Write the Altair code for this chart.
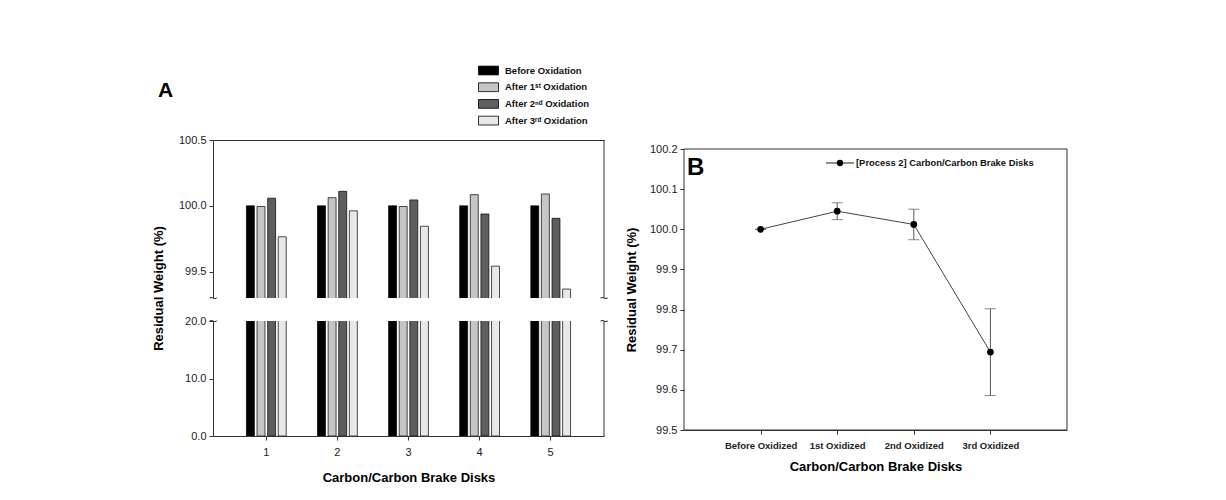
import altair as alt
import pandas as pd

# ---------------- data ----------------
disks = [1, 2, 3, 4, 5]
series = ["Before Oxidation", "After 1ˢᵗ Oxidation", "After 2ⁿᵈ Oxidation", "After 3ʳᵈ Oxidation"]
before = [100.0, 100.0, 100.0, 100.0, 100.0]
after1 = [99.995, 100.062, 99.995, 100.085, 100.090]
after2 = [100.058, 100.110, 100.045, 99.938, 99.905]
after3 = [99.765, 99.962, 99.845, 99.542, 99.368]
bar_colors = ["#000000", "#c6c6c6", "#5e5e5e", "#e8e8e8"]

stages = ["Before Oxidized", "1st Oxidized", "2nd Oxidized", "3rd Oxidized"]
means = [100.0, 100.045, 100.012, 99.694]
errs = [0.0, 0.021, 0.038, 0.108]
legend_b = ["[Process 2] Carbon/Carbon Brake Disks"]

rows = []
for s, vals in zip(series, [before, after1, after2, after3]):
    for d, v in zip(disks, vals):
        rows.append({"disk": d, "series": s, "value": v})
dfA = pd.DataFrame(rows)

dfB = pd.DataFrame({
    "stage": stages,
    "mean": means,
    "lo": [m - e for m, e in zip(means, errs)],
    "hi": [m + e for m, e in zip(means, errs)],
})
one = pd.DataFrame({"k": [0]})

WA, HT, HB = 391, 158, 115
WB, HBB = 383, 281
OFF_B = 9                      # panel B frame starts a little lower than panel A
B_TOP = 100.2 + OFF_B * 0.7 / HBB

xscale = alt.Scale(paddingInner=0.44, paddingOuter=0.47)
xoff = alt.XOffset("series:N", sort=series, scale=alt.Scale(paddingInner=0.25))
color = alt.Color(
    "series:N", sort=series,
    scale=alt.Scale(domain=series, range=bar_colors),
    legend=alt.Legend(
        title=None, orient="none", legendX=267, legendY=-78,
        symbolType="M-1.25,-0.55L1.25,-0.55L1.25,0.55L-1.25,0.55Z",
        symbolSize=256, symbolStrokeColor="black", symbolStrokeWidth=0.8,
        symbolOpacity=1, labelFont="Liberation Sans", labelFontWeight="bold",
        labelFontSize=9.5, labelColor="#111", rowPadding=1.7, labelOffset=8,
    ),
)

# ---------- Panel A, upper part ----------
top_bars = alt.Chart(dfA).mark_bar(clip=True, stroke="black", strokeWidth=0.7, opacity=1).encode(
    x=alt.X("disk:O", scale=xscale,
            axis=alt.Axis(orient="top", labels=False, ticks=False, title=None, domain=True)),
    xOffset=xoff,
    y=alt.Y("value:Q", scale=alt.Scale(domain=[99.3, 100.5], nice=False, zero=False),
            axis=alt.Axis(values=[99.5, 100.0, 100.5], format=".1f",
                          title="Residual Weight (%)", titleX=-48, titleY=148,
                          titleAngle=-90)),
    color=color,
)
frame_top = alt.Chart(one).mark_rule(color="#333", strokeWidth=1).encode(
    x=alt.value(WA), y=alt.value(0), y2=alt.value(HT))
spacer_top = alt.Chart(one).mark_rule(strokeOpacity=0).encode(
    x=alt.value(0), y=alt.value(-100), y2=alt.value(-99))
brk_top = alt.Chart(pd.DataFrame({"px": [0, WA]})).mark_text(
    text="~", fontSize=15, color="#333", baseline="middle", align="center").encode(
    x=alt.X("px:Q", scale=None), y=alt.value(HT))
labelA = alt.Chart(pd.DataFrame({"t": ["A"]})).mark_text(
    align="left", baseline="alphabetic", font="Liberation Sans", fontWeight="bold",
    fontSize=21, color="black").encode(x=alt.value(-55), y=alt.value(-43), text="t:N")
top = alt.layer(top_bars, frame_top, spacer_top, brk_top, labelA).properties(width=WA, height=HT)

# ---------- Panel A, lower part ----------
bot_bars = alt.Chart(dfA).mark_bar(clip=True, stroke="black", strokeWidth=0.7, opacity=1).encode(
    x=alt.X("disk:O", scale=xscale,
            axis=alt.Axis(title="Carbon/Carbon Brake Disks", labelAngle=0,
                          labelPadding=6, titlePadding=14)),
    xOffset=xoff,
    y=alt.Y("value:Q", scale=alt.Scale(domain=[0, 20], nice=False),
            axis=alt.Axis(values=[0, 10, 20], format=".1f", title=None)),
    color=color,
)
frame_bot = alt.Chart(one).mark_rule(color="#333", strokeWidth=1).encode(
    x=alt.value(WA), y=alt.value(0), y2=alt.value(HB))
brk_bot = alt.Chart(pd.DataFrame({"px": [0, WA]})).mark_text(
    text="~", fontSize=15, color="#333", baseline="middle", align="center").encode(
    x=alt.X("px:Q", scale=None), y=alt.value(0))
bottom = alt.layer(bot_bars, frame_bot, brk_bot).properties(width=WA, height=HB)

panelA = alt.vconcat(top, bottom, spacing=23, bounds="flush").resolve_scale(y="independent")

# ---------- Panel B ----------
xB = alt.X("stage:N", sort=stages, scale=alt.Scale(type="point", padding=1),
           axis=alt.Axis(title="Carbon/Carbon Brake Disks", labelAngle=0,
                         labelFontWeight="bold", labelFontSize=9.5, labelPadding=6,
                         titlePadding=11))
yB = alt.Y("mean:Q", scale=alt.Scale(domain=[99.5, B_TOP], nice=False, zero=False),
           axis=alt.Axis(values=[99.5, 99.6, 99.7, 99.8, 99.9, 100.0, 100.1, 100.2],
                         format=".1f", title="Residual Weight (%)", titleX=-46,
                         titleY=OFF_B + HBB / 2, domain=False))
baseB = alt.Chart(dfB)
boxB = alt.Chart(one).mark_rect(fill=None, stroke="#333", strokeWidth=1).encode(
    x=alt.value(0), x2=alt.value(WB), y=alt.value(OFF_B), y2=alt.value(OFF_B + HBB))
lineB = baseB.mark_line(color="#444", strokeWidth=1).encode(x=xB, y=yB)
errB = baseB.mark_rule(color="#555", strokeWidth=1).encode(x=xB, y="lo:Q", y2="hi:Q")
capHi = baseB.mark_tick(color="#555", thickness=1, size=11).encode(x=xB, y="hi:Q")
capLo = baseB.mark_tick(color="#555", thickness=1, size=11).encode(x=xB, y="lo:Q")
ptsB = baseB.mark_point(filled=True, color="black", size=45, opacity=1).encode(x=xB, y=yB)

legB_df = pd.DataFrame({"label": legend_b})
legB_line = alt.Chart(legB_df).mark_rule(color="#222", strokeWidth=1).encode(
    x=alt.value(142), x2=alt.value(170), y=alt.value(OFF_B + 14))
legB_pt = alt.Chart(legB_df).mark_point(filled=True, color="black", size=40, opacity=1).encode(
    x=alt.value(156), y=alt.value(OFF_B + 14))
legB_txt = alt.Chart(legB_df).mark_text(
    align="left", baseline="middle", font="Liberation Sans", fontWeight="bold",
    fontSize=9.4, color="#111").encode(x=alt.value(172), y=alt.value(OFF_B + 14), text="label:N")
labelB = alt.Chart(pd.DataFrame({"t": ["B"]})).mark_text(
    align="left", baseline="middle", font="Liberation Sans", fontWeight="bold",
    fontSize=24, color="black").encode(x=alt.value(3), y=alt.value(OFF_B + 19), text="t:N")

panelB = alt.layer(boxB, errB, capHi, capLo, lineB, ptsB,
                   legB_line, legB_pt, legB_txt, labelB).properties(width=WB, height=HBB + OFF_B)

chart = alt.hconcat(panelA, panelB, spacing=16).resolve_scale(
    x="independent", y="independent"
).properties(
    padding={"left": 144, "top": 32, "right": 5, "bottom": 5},
).configure_view(stroke=None).configure_axis(
    grid=False, labelFont="Liberation Sans", labelFontSize=11, labelColor="#222",
    tickColor="#333", domainColor="#333", tickSize=4, labelPadding=3,
    titleFont="Liberation Sans", titleFontWeight="bold", titleFontSize=13, titleColor="black",
)

chart.save("out.html", embed_options={"renderer": "svg", "actions": False})
